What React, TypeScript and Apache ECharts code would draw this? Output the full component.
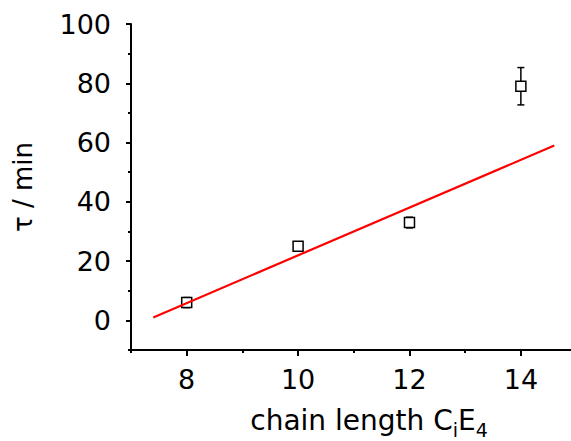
import { useEffect, useRef } from "react";
import * as echarts from "echarts";

const chainLength = [8, 10, 12, 14];
const tau = [6, 25, 33, 79];
const tauErr = [1.7, 0.8, 1.8, 6.3];
const fitX = [7.4, 14.6];
const fitY = [1, 59];
const xMajorTicks = [8, 10, 12, 14];
const xMinorTicks = [7, 9, 11, 13];
const yMajorTicks = [0, 20, 40, 60, 80, 100];
const yMinorTicks = [-10, 10, 30, 50, 70, 90];

const FONT = "DejaVu Sans";

export default function App() {
  const ref = useRef<HTMLDivElement>(null);
  useEffect(() => {
    const chart = echarts.init(ref.current!, null, { renderer: "svg" });
    const axisColor = "#000";
    chart.setOption({
      animation: false,
      grid: { left: 131, right: 0, top: 24, bottom: 91, containLabel: false, outerBoundsMode: "none" },
      xAxis: [
        {
          type: "value",
          position: "bottom",
          min: 7,
          max: 14.9,
          name: "{m|chain length C}{s|i}{m|E}{s|4}",
          nameLocation: "middle",
          nameGap: 52,
          nameTextStyle: {
            padding: [0, 0, 0, 36],
            rich: {
              m: { fontSize: 28, fontFamily: FONT, color: "#000", lineHeight: 37 },
              s: { fontSize: 19, fontFamily: FONT, color: "#000", lineHeight: 17, verticalAlign: "bottom" },
            },
          },
          axisLine: { onZero: false, lineStyle: { color: axisColor, width: 2 } },
          axisTick: { customValues: xMajorTicks, length: 6, lineStyle: { color: axisColor, width: 2 } },
          axisLabel: { customValues: xMajorTicks, fontFamily: FONT, fontSize: 27, color: "#000", margin: 16 },
          splitLine: { show: false },
        },
        {
          type: "value",
          position: "bottom",
          min: 7,
          max: 14.9,
          axisLine: { show: false, onZero: false },
          axisTick: { customValues: xMinorTicks, length: 3, lineStyle: { color: axisColor, width: 2 } },
          axisLabel: { show: false },
          splitLine: { show: false },
        },
      ],
      yAxis: [
        {
          type: "value",
          position: "left",
          min: -10,
          max: 100,
          name: "τ / min",
          nameLocation: "middle",
          nameGap: 95,
          nameTextStyle: { fontFamily: FONT, fontSize: 26, color: "#000", lineHeight: 26 },
          axisLine: { onZero: false, lineStyle: { color: axisColor, width: 2 } },
          axisTick: { customValues: yMajorTicks, length: 5, lineStyle: { color: axisColor, width: 2 } },
          axisLabel: { customValues: yMajorTicks, fontFamily: FONT, fontSize: 27, color: "#000", margin: 20 },
          splitLine: { show: false },
        },
        {
          type: "value",
          position: "left",
          min: -10,
          max: 100,
          axisLine: { show: false, onZero: false },
          axisTick: { customValues: yMinorTicks, length: 3, lineStyle: { color: axisColor, width: 2 } },
          axisLabel: { show: false },
          splitLine: { show: false },
        },
      ],
      series: [
        {
          type: "custom",
          xAxisIndex: 0,
          yAxisIndex: 0,
          z: 2,
          data: chainLength.map((x, i) => [x, tau[i] - tauErr[i], tau[i] + tauErr[i]]),
          encode: { x: 0, y: [1, 2] },
          renderItem: (params: any, api: any) => {
            const lo = api.coord([api.value(0), api.value(1)]);
            const hi = api.coord([api.value(0), api.value(2)]);
            const cap = 3.5;
            const style = { stroke: "#000", lineWidth: 1.5 };
            return {
              type: "group",
              children: [
                { type: "line", shape: { x1: lo[0], y1: lo[1], x2: hi[0], y2: hi[1] }, style },
                { type: "line", shape: { x1: lo[0] - cap, y1: lo[1], x2: lo[0] + cap, y2: lo[1] }, style },
                { type: "line", shape: { x1: hi[0] - cap, y1: hi[1], x2: hi[0] + cap, y2: hi[1] }, style },
              ],
            };
          },
        },
        {
          type: "scatter",
          xAxisIndex: 0,
          yAxisIndex: 0,
          z: 3,
          symbol: "rect",
          symbolSize: 10,
          itemStyle: { color: "#fff", borderColor: "#000", borderWidth: 1.5, opacity: 1 },
          data: chainLength.map((x, i) => [x, tau[i]]),
        },
        {
          type: "line",
          xAxisIndex: 0,
          yAxisIndex: 0,
          z: 4,
          showSymbol: false,
          symbol: "none",
          lineStyle: { color: "#ff0000", width: 2.2 },
          data: fitX.map((x, i) => [x, fitY[i]]),
        },
      ],
    });
    return () => chart.dispose();
  }, []);
  return (
    <div
      ref={ref}
      style={{ position: "fixed", left: 0, top: 0, width: 571, height: 441, background: "#fff" }}
    />
  );
}
